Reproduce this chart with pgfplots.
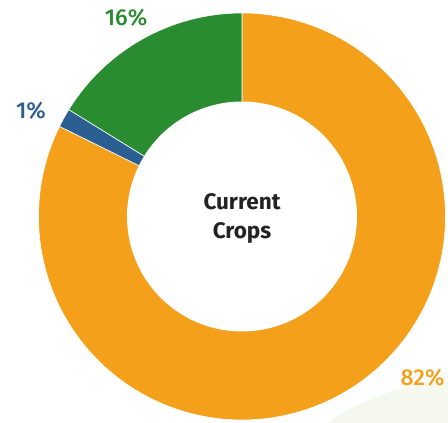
\documentclass[border=0pt]{standalone}
\usepackage{pgfplots}
\pgfplotsset{compat=1.18}
\usepackage{fontspec}
\setmainfont{Fira Sans}
\newfontfamily\fmed{Fira Sans Medium}
\definecolor{corange}{HTML}{F5A01A}
\definecolor{cgreen}{HTML}{2A8C30}
\definecolor{cblue}{HTML}{2B5E91}
\definecolor{cpale}{HTML}{F4F8EE}
\definecolor{ctext}{HTML}{222222}
\begin{document}
\begin{tikzpicture}
\useasboundingbox (0,0) rectangle (448pt,423pt);
\def\cx{242}\def\cy{206.5}\def\Rout{203.5}\def\Rin{115}
\begin{axis}[scale only axis, width=448pt, height=423pt, at={(0,0)}, anchor=south west,
  xmin=0, xmax=448, ymin=0, ymax=423, hide axis]
% pale background shape
\addplot[fill=cpale, draw=none, domain=0:360, samples=120] ({455+218*cos(x)},{-177+218*sin(x)});
% slices: Orange 82.3%, Blue 1.5%, Green 16.2% (clockwise from top)
\addplot[fill=corange, draw=white, line width=0.6pt, domain=-206.28:90, samples=220] ({\cx+\Rout*cos(x)},{\cy+\Rout*sin(x)}) -- (axis cs:\cx,\cy) -- cycle;
\addplot[fill=cblue, draw=white, line width=0.6pt, domain=-211.68:-206.28, samples=10] ({\cx+\Rout*cos(x)},{\cy+\Rout*sin(x)}) -- (axis cs:\cx,\cy) -- cycle;
\addplot[fill=cgreen, draw=white, line width=0.6pt, domain=-270:-211.68, samples=60] ({\cx+\Rout*cos(x)},{\cy+\Rout*sin(x)}) -- (axis cs:\cx,\cy) -- cycle;
% hole
\addplot[fill=white, draw=none, domain=0:360, samples=160] ({\cx+\Rin*cos(x)},{\cy+\Rin*sin(x)});
\node[font=\bfseries\fontsize{22.5}{29}\selectfont, align=center, text=ctext] at (axis cs:242,204) {Current\\Crops};
\node[font=\fmed\fontsize{23}{27}\selectfont, text=cgreen] at (axis cs:126,405) {16\%};
\node[font=\fmed\fontsize{23}{27}\selectfont, text=cblue] at (axis cs:31,312) {1\%};
\node[font=\fmed\fontsize{23}{27}\selectfont, text=corange] at (axis cs:422.5,45) {82\%};
\end{axis}
\end{tikzpicture}
\end{document}
